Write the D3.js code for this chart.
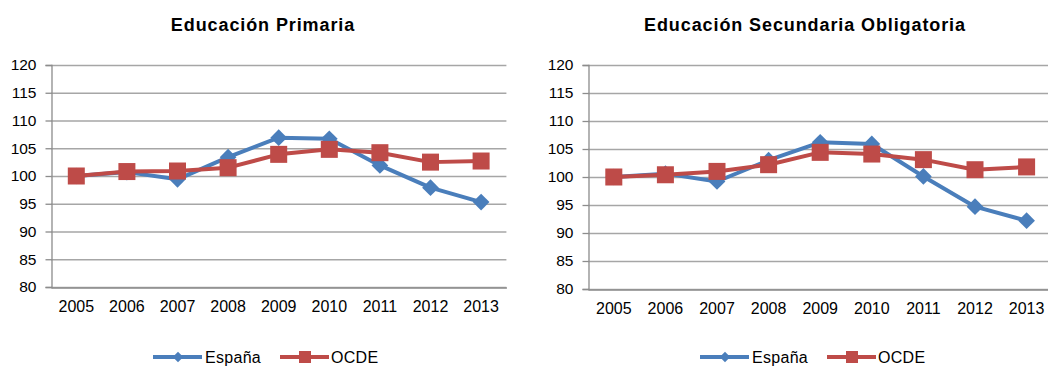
<!DOCTYPE html>
<html><head><meta charset="utf-8">
<script src="https://cdn.jsdelivr.net/npm/d3@7"></script>
<style>body{margin:0;background:#fff;}svg{display:block;font-family:"Liberation Sans",Arial,sans-serif;}</style>
</head><body>
<svg id="c" width="1048" height="367"></svg>
<script>
const years = ["2005","2006","2007","2008","2009","2010","2011","2012","2013"];
const yTicks = [80,85,90,95,100,105,110,115,120];
const seriesNames = ["España","OCDE"];
const primariaEspana = [100,100.7,99.4,103.4,106.9,106.7,101.9,97.9,95.3];
const primariaOCDE   = [100,100.8,100.9,101.5,103.9,104.8,104.2,102.5,102.7];
const secundariaEspana = [100,100.6,99.2,103.0,106.2,105.9,100.1,94.7,92.2];
const secundariaOCDE   = [100,100.4,101.0,102.2,104.4,104.1,103.1,101.3,101.8];
const titles = ["Educación Primaria","Educación Secundaria Obligatoria"];

const BLUE="#4a7ebb", RED="#be4b48";
const svg = d3.select("#c");

function drawChart(cfg){
  const g = svg.append("g");
  const x = d3.scaleBand().domain(years).range([cfg.x0, cfg.x0 + cfg.bw*9]);
  const y = d3.scaleLinear().domain([80,120]).range([cfg.y1, cfg.y0]);
  g.append("text").attr("x",cfg.tx).attr("y",31).attr("text-anchor","middle")
    .attr("font-size","18px").attr("font-weight","bold").attr("letter-spacing","0.9px").attr("fill","#000").text(cfg.title);
  // gridlines
  g.selectAll("line.grid").data(yTicks).join("line")
    .attr("x1",cfg.x0).attr("x2",cfg.x0+cfg.bw*9)
    .attr("y1",d=>y(d)+0.5).attr("y2",d=>y(d)+0.5)
    .attr("stroke","#a6a6a6").attr("stroke-width",1.3);
  // y axis
  const ya = g.append("g").attr("transform",`translate(${cfg.x0+0.5},0)`)
    .call(d3.axisLeft(y).tickValues(yTicks).tickSize(6).tickPadding(9));
  ya.select(".domain").attr("stroke","#8c8c8c").attr("stroke-width",1.3);
  ya.selectAll(".tick line").attr("stroke","#8c8c8c").attr("stroke-width",1.3);
  ya.selectAll(".tick text").attr("font-size","15.5px").attr("fill","#000").attr("font-family","Liberation Sans, Arial, sans-serif");
  // x axis
  const xa = g.append("g").attr("transform",`translate(0,${cfg.y1+0.5})`)
    .call(d3.axisBottom(x).tickSize(0).tickPadding(13));
  xa.select(".domain").attr("stroke","#8c8c8c").attr("stroke-width",1.3);
  xa.selectAll(".tick text").attr("font-size","16px").attr("fill","#000").attr("font-family","Liberation Sans, Arial, sans-serif");
  const cx = d => x(d)+x.bandwidth()/2;
  const line = d3.line().x((d,i)=>cx(years[i])).y(d=>y(d));
  // España
  g.append("path").datum(cfg.esp).attr("d",line).attr("fill","none").attr("stroke",BLUE).attr("stroke-width",4).attr("stroke-linejoin","round");
  const diamond = d3.symbol().type(d3.symbolSquare).size(140);
  g.selectAll("path.esp").data(cfg.esp).join("path")
    .attr("d",diamond()).attr("fill",BLUE)
    .attr("transform",(d,i)=>`translate(${cx(years[i])},${y(d)}) rotate(45)`);
  // OCDE
  g.append("path").datum(cfg.oc).attr("d",line).attr("fill","none").attr("stroke",RED).attr("stroke-width",4).attr("stroke-linejoin","round");
  g.selectAll("rect.oc").data(cfg.oc).join("rect")
    .attr("x",(d,i)=>cx(years[i])-8.5).attr("y",d=>y(d)-8.5).attr("width",17).attr("height",17).attr("fill",RED);
  // legend
  const ly = 357;
  const lg = g.append("g");
  lg.append("line").attr("x1",cfg.lx).attr("x2",cfg.lx+49).attr("y1",ly).attr("y2",ly).attr("stroke",BLUE).attr("stroke-width",4);
  lg.append("path").attr("d",d3.symbol().type(d3.symbolSquare).size(55)()).attr("fill",BLUE)
    .attr("transform",`translate(${cfg.lx+25},${ly}) rotate(45)`);
  lg.append("text").attr("x",cfg.lx+52).attr("y",ly+6).attr("font-size","16px").attr("letter-spacing","0.3px").attr("fill","#000").text(seriesNames[0]);
  const rx = cfg.lx+127;
  lg.append("line").attr("x1",rx).attr("x2",rx+49).attr("y1",ly).attr("y2",ly).attr("stroke",RED).attr("stroke-width",4);
  lg.append("rect").attr("x",rx+19).attr("y",ly-6).attr("width",12).attr("height",12).attr("fill",RED);
  lg.append("text").attr("x",rx+51).attr("y",ly+6).attr("font-size","16px").attr("letter-spacing","0.3px").attr("fill","#000").text(seriesNames[1]);
}

drawChart({title:titles[0], tx:263, x0:51, bw:50.6, y0:65, y1:287, esp:primariaEspana, oc:primariaOCDE, lx:153});
drawChart({title:titles[1], tx:805, x0:588, bw:51.6, y0:65, y1:289, esp:secundariaEspana, oc:secundariaOCDE, lx:700});
</script>
</body></html>
